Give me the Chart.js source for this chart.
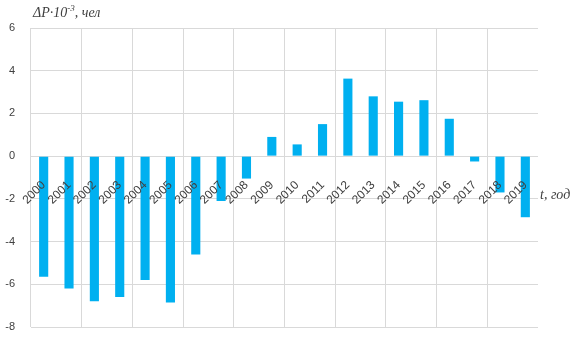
<!DOCTYPE html>
<html>
<head>
<meta charset="utf-8">
<script src="https://cdn.jsdelivr.net/npm/chart.js@4.4.0/dist/chart.umd.min.js"></script>
<style>
    html, body { margin: 0; padding: 0; background: #ffffff; }
    #wrap { position: relative; width: 572px; height: 339px; }
    .lbl { position: absolute; font-family: "Liberation Serif", serif; font-style: italic; font-size: 14px; color: #404040; white-space: nowrap; }
    .lbl sup { font-size: 9px; }
</style>
</head>
<body>
<div id="wrap">
    <canvas id="chart" width="572" height="339"></canvas>
    <div class="lbl" style="left:33px; top:3px;">ΔP·10<sup>-3</sup>, чел</div>
    <div class="lbl" style="left:540px; top:187px;">t, год</div>
</div>
<script>
// Years and population change (thousands)
const years = ["2000", "2001", "2002", "2003", "2004", "2005", "2006", "2007", "2008", "2009",
               "2010", "2011", "2012", "2013", "2014", "2015", "2016", "2017", "2018", "2019"];
const deltaP = [-5.65, -6.2, -6.8, -6.6, -5.8, -6.85, -4.6, -2.1, -1.05, 0.9,
                0.55, 1.5, 3.63, 2.8, 2.55, 2.62, 1.75, -0.25, -1.7, -2.86];
const yTicks = [-8, -6, -4, -2, 0, 2, 4, 6];

const gridColor = '#d9d9d9';
const textColor = '#404040';

const ctx = document.getElementById('chart').getContext('2d');
new Chart(ctx, {
    type: 'bar',
    data: {
        labels: years,
        datasets: [{
            data: deltaP,
            backgroundColor: '#00b0f0',
            borderWidth: 0,
            categoryPercentage: 1,
            barPercentage: 0.36
        }]
    },
    options: {
        responsive: false,
        animation: false,
        layout: {
            padding: { left: 0, top: 28, right: 34, bottom: 12 }
        },
        scales: {
            x: {
                position: { y: 0 },
                afterFit: (scale) => {
                    scale.paddingTop = 0;
                    scale.paddingBottom = 0;
                },
                ticks: {
                    z: 1, // labels on top of the bars
                    color: textColor,
                    font: { family: 'Liberation Sans', size: 12 },
                    minRotation: 45,
                    maxRotation: 45,
                    padding: 22,
                    autoSkip: false
                },
                grid: {
                    // Excel draws a vertical line every second category
                    color: (c) => (c.index % 2 === 0 ? gridColor : 'rgba(0,0,0,0)'),
                    lineWidth: 1,
                    drawTicks: false,
                    offset: true
                },
                border: { display: false }
            },
            y: {
                min: -8,
                max: 6,
                afterBuildTicks: (scale) => {
                    scale.ticks = yTicks.map(v => ({ value: v }));
                },
                afterFit: (scale) => {
                    scale.width = 31;
                    scale.paddingTop = 0;
                    scale.paddingBottom = 0;
                },
                ticks: {
                    color: textColor,
                    font: { family: 'Liberation Sans', size: 11 },
                    padding: 16
                },
                grid: {
                    color: gridColor,
                    lineWidth: 1,
                    drawTicks: false
                },
                border: { display: false }
            }
        },
        plugins: {
            legend: { display: false },
            tooltip: { enabled: false }
        }
    }
});
</script>
</body>
</html>
